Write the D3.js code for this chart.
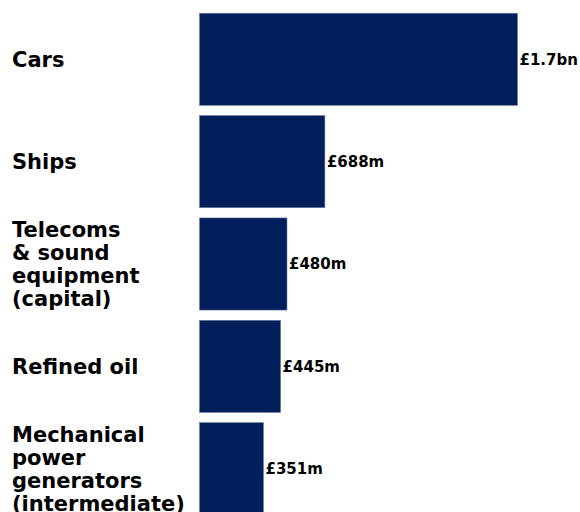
<!DOCTYPE html>
<html>
<head>
<meta charset="utf-8">
<script src="https://cdn.jsdelivr.net/npm/d3@7"></script>
<style>
  html, body { margin: 0; padding: 0; background: #fff; }
  svg { display: block; font-family: "DejaVu Sans", sans-serif; }
</style>
</head>
<body>
<svg id="chart" width="580" height="512"></svg>
<script>
// Top exports, value in £ millions
const categories = [
  "Cars",
  "Ships",
  "Telecoms\n& sound\nequipment\n(capital)",
  "Refined oil",
  "Mechanical\npower\ngenerators\n(intermediate)"
];
const values = [1745, 688, 480, 445, 351];

const svg = d3.select("#chart");

const y = d3.scaleBand()
  .domain(categories)
  .range([3, 525])
  .paddingInner(0.1)
  .paddingOuter(0.1);

const x = d3.scaleLinear()
  .domain([0, 1745])
  .range([199.5, 517.5]);

const fmt = v => v >= 1000 ? `£${(v / 1000).toFixed(1)}bn` : `£${v}m`;

const rows = categories.map((c, i) => ({ cat: c, value: values[i] }));

// Bars
svg.append("g").selectAll("rect")
  .data(rows)
  .join("rect")
  .attr("x", x(0))
  .attr("y", d => y(d.cat))
  .attr("width", d => x(d.value) - x(0))
  .attr("height", y.bandwidth())
  .attr("fill", "#001f5b")
  .attr("stroke", "#6a7aa3")
  .attr("stroke-width", 0.6);

// Value labels at the bar ends
svg.append("g").selectAll("text")
  .data(rows)
  .join("text")
  .attr("x", d => x(d.value) + 2)
  .attr("y", d => y(d.cat) + y.bandwidth() / 2)
  .attr("dy", "0.35em")
  .attr("font-size", 15)
  .attr("font-weight", "bold")
  .attr("fill", "#000")
  .text(d => fmt(d.value));

// Category labels, multi-line, centred on each band
const lineH = 23;
const labels = svg.append("g").selectAll("text")
  .data(rows)
  .join("text")
  .attr("x", 12)
  .attr("font-size", 21)
  .attr("font-weight", "bold")
  .attr("fill", "#000");

labels.each(function(d) {
  const lines = d.cat.split("\n");
  const cy = y(d.cat) + y.bandwidth() / 2;
  const first = cy - (lines.length - 1) * lineH / 2 + 7.5;
  d3.select(this).selectAll("tspan")
    .data(lines)
    .join("tspan")
    .attr("x", 12)
    .attr("y", (l, i) => first + i * lineH)
    .text(l => l);
});
</script>
</body>
</html>
